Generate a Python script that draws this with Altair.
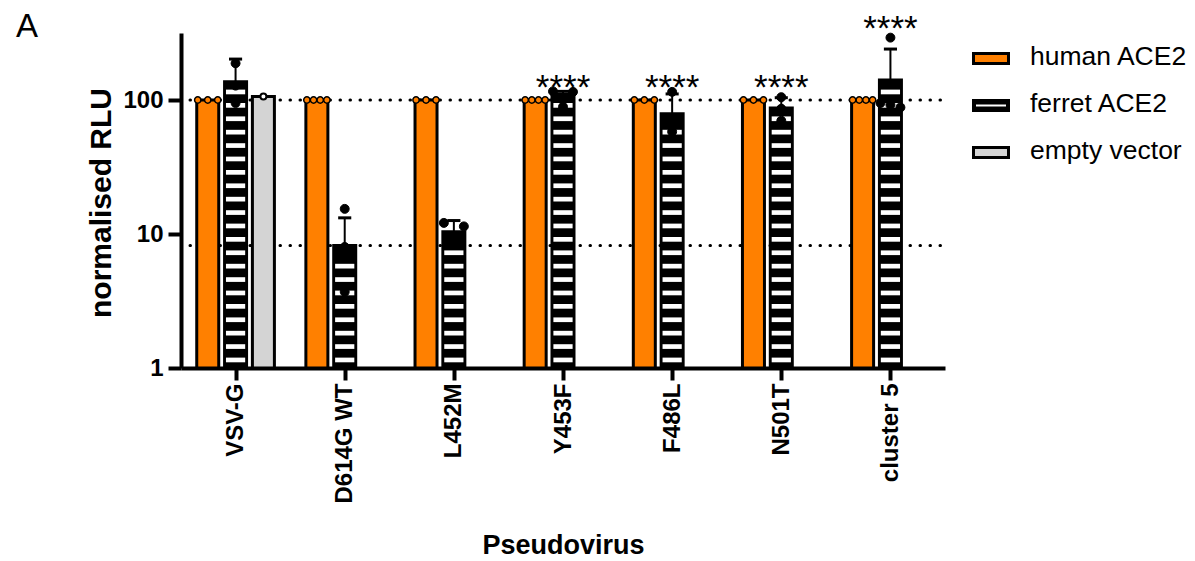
import json
import numpy as np
import pandas as pd
import altair as alt

# ---------------- data ----------------
categories = ["VSV-G", "D614G WT", "L452M", "Y453F", "F486L", "N501T", "cluster 5"]
groups = ["human ACE2", "ferret ACE2", "empty vector"]

human_mean = [100, 100, 100, 100, 100, 100, 100]
human_points = [[100, 100, 100], [100, 100, 100, 100], [100, 100, 100],
                [100, 100, 100, 100], [100, 100, 100], [100, 100, 100],
                [100, 100, 100, 100]]

ferret_mean = [137, 8.2, 10.4, 110, 79, 87, 141]
ferret_err_top = [202, 13.2, 12.6, 116, 111, 104, 240]
ferret_points = [[188, 128, 95], [15.4, 8.0, 3.7], [12.1, 11.4, 8.6],
                 [116, 115, 89], [115, 68, 58], [105, 86, 70], [292, 95, 92, 88]]

empty_category = ["VSV-G"]
empty_mean = [106]
empty_points = [[106]]

signif_text = ["", "", "", "****", "****", "****", "****"]
signif_value = [None, None, None, 101, 101, 101, 280]

ref_lines = [100, 8.2]

# ---------------- layout / style ----------------
FONT = "Liberation Sans"
W, H = 764, 335
UNIT = W / 7.0
SLOT = {"human ACE2": -0.255, "ferret ACE2": 0.0, "empty vector": 0.255}
HALF = 0.1008
COLORS = {"human ACE2": "#FF8000", "ferret ACE2": "#000000", "empty vector": "#D4D4D4"}

xscale = alt.Scale(domain=[-0.5, 6.5], nice=False, zero=False)
yscale = alt.Scale(type="log", domain=[1, 10 ** 2.5], nice=False)

xaxis = alt.Axis(
    values=list(range(len(categories))),
    labelExpr=f"{json.dumps(categories)}[datum.value]",
    labelAngle=-90, labelFont=FONT, labelFontSize=24, labelFontWeight="bold",
    labelColor="black", labelPadding=3, labelOverlap=False, labelFlush=False,
    tickSize=12, tickWidth=4, tickColor="black",
    domainWidth=4, domainColor="black", grid=False,
    title="Pseudovirus", titleFont=FONT, titleFontSize=27, titleFontWeight="bold",
    titleColor="black", titleY=185, titleBaseline="alphabetic",
)
yaxis = alt.Axis(
    values=[1, 10, 100], format="d",
    labelFont=FONT, labelFontSize=24, labelFontWeight="bold", labelColor="black",
    labelPadding=5, tickSize=13, tickWidth=4, tickColor="black",
    domainWidth=4, domainColor="black", grid=False,
    title="normalised RLU", titleFont=FONT, titleFontSize=30, titleFontWeight="bold",
    titleColor="black", titleX=-71, titleY=H / 2 + 2, titleAngle=270,
    titleBaseline="alphabetic", titleAlign="center",
)


def X(field):
    return alt.X(field, type="quantitative", scale=xscale, axis=xaxis)


def Y(field):
    return alt.Y(field, type="quantitative", scale=yscale, axis=yaxis)


def spread(values, width_px=20.0, tol=0.06):
    """horizontal offsets (in x units) for points that would overlap"""
    logs = np.log10(values)
    order = np.argsort(-logs)
    offs = np.zeros(len(values))
    clusters, cur = [], [order[0]]
    for idx in order[1:]:
        if abs(logs[cur[0]] - logs[idx]) < tol:
            cur.append(idx)
        else:
            clusters.append(cur)
            cur = [idx]
    clusters.append(cur)
    for cl in clusters:
        if len(cl) > 1:
            o = np.linspace(-width_px / 2, width_px / 2, len(cl))
            for k, idx in enumerate(cl):
                offs[idx] = o[k] / UNIT
    return offs


# ---------------- tables ----------------
bar_rows = []
for i, c in enumerate(categories):
    bar_rows.append(dict(group="human ACE2", x0=i + SLOT["human ACE2"] - HALF,
                         x1=i + SLOT["human ACE2"] + HALF, y0=1, y1=human_mean[i]))
    bar_rows.append(dict(group="ferret ACE2", x0=i + SLOT["ferret ACE2"] - HALF,
                         x1=i + SLOT["ferret ACE2"] + HALF, y0=1, y1=ferret_mean[i]))
for c, m in zip(empty_category, empty_mean):
    i = categories.index(c)
    bar_rows.append(dict(group="empty vector", x0=i + SLOT["empty vector"] - HALF,
                         x1=i + SLOT["empty vector"] + HALF, y0=1, y1=m))
bars_df = pd.DataFrame(bar_rows)

# stripe pattern of the ferret bars (every 0.1 decade, anchored at the base)
stripe_rows = []
SH = 0.0175
for i, m in enumerate(ferret_mean):
    top = np.log10(m) - 0.045
    k = 0
    while True:
        cpos = 0.06 + 0.1 * k
        if cpos + SH > top:
            break
        stripe_rows.append(dict(x0=i - 0.088, x1=i + 0.088,
                                y0=10 ** (cpos - SH), y1=10 ** (cpos + SH)))
        k += 1
stripes_df = pd.DataFrame(stripe_rows)

err_df = pd.DataFrame(dict(x=list(range(len(categories))), m=ferret_mean, t=ferret_err_top))
err_df["c0"] = err_df["x"] - 0.06
err_df["c1"] = err_df["x"] + 0.06

hp_rows, fp_rows, ep_rows = [], [], []
for i, pts in enumerate(human_points):
    offs = spread(pts)
    for v, o in zip(pts, offs):
        hp_rows.append(dict(x=i + SLOT["human ACE2"] + o, v=v))
for i, pts in enumerate(ferret_points):
    offs = spread(pts)
    for v, o in zip(pts, offs):
        fp_rows.append(dict(x=i + SLOT["ferret ACE2"] + o, v=v))
for c, pts in zip(empty_category, empty_points):
    i = categories.index(c)
    for v in pts:
        ep_rows.append(dict(x=i + SLOT["empty vector"], v=v))
hp_df, fp_df, ep_df = pd.DataFrame(hp_rows), pd.DataFrame(fp_rows), pd.DataFrame(ep_rows)

sig_df = pd.DataFrame(dict(x=[i for i, s in enumerate(signif_text) if s],
                           v=[signif_value[i] for i, s in enumerate(signif_text) if s],
                           t=[s for s in signif_text if s]))
ref_df = pd.DataFrame(dict(v=ref_lines))

# ---------------- layers ----------------
refs = alt.Chart(ref_df).mark_rule(
    color="black", strokeWidth=3, strokeDash=[0.5, 9.5], strokeCap="round"
).encode(y=Y("v"), x=alt.value(9), x2=alt.value(W))

bars = alt.Chart(bars_df).mark_rect(stroke="black", strokeWidth=3).encode(
    x=X("x0"), x2="x1", y=Y("y0"), y2="y1",
    fill=alt.Fill("group:N", scale=alt.Scale(domain=groups, range=[COLORS[g] for g in groups]),
                  legend=None),
)

stripes = alt.Chart(stripes_df).mark_rect(fill="white", stroke=None).encode(
    x=X("x0"), x2="x1", y=Y("y0"), y2="y1")

err_line = alt.Chart(err_df).mark_rule(color="black", strokeWidth=2).encode(
    x=X("x"), y=Y("m"), y2="t")
err_cap = alt.Chart(err_df).mark_rule(color="black", strokeWidth=3).encode(
    x=X("c0"), x2="c1", y=Y("t"))

hpts = alt.Chart(hp_df).mark_point(shape="circle", filled=True, fill="#FF8000",
                                   stroke="black", strokeWidth=1.5, size=40, opacity=1).encode(
    x=X("x"), y=Y("v"))
fpts = alt.Chart(fp_df).mark_point(shape="circle", filled=True, fill="black",
                                   stroke="black", strokeWidth=1, size=80, opacity=1).encode(
    x=X("x"), y=Y("v"))
epts = alt.Chart(ep_df).mark_point(shape="circle", filled=True, fill="white",
                                   stroke="black", strokeWidth=2, size=36, opacity=1).encode(
    x=X("x"), y=Y("v"))

sig = alt.Chart(sig_df).mark_text(font=FONT, fontSize=35, color="black",
                                  align="center", baseline="alphabetic").encode(
    x=X("x"), y=Y("v"), text="t:N")

# panel letter
letter = alt.Chart(pd.DataFrame(dict(t=["A"]))).mark_text(
    font=FONT, fontSize=33, color="black", align="left", baseline="alphabetic"
).encode(text="t:N", x=alt.value(-165), y=alt.value(4))

# legend (drawn to the right of the plot)
legend_layers = []
for k, g in enumerate(groups):
    cy = 25.5 + 47 * k
    ldf = pd.DataFrame(dict(label=[g]))
    legend_layers.append(
        alt.Chart(ldf).mark_rect(fill=COLORS[g], stroke="black", strokeWidth=3).encode(
            x=alt.value(792.5), x2=alt.value(827.5), y=alt.value(cy - 5), y2=alt.value(cy + 5)))
    if g == "ferret ACE2":
        legend_layers.append(
            alt.Chart(ldf).mark_rule(color="white", strokeWidth=2).encode(
                x=alt.value(795), x2=alt.value(825), y=alt.value(cy)))
    legend_layers.append(
        alt.Chart(ldf).mark_text(font=FONT, fontSize=26.5, color="black", align="left",
                                 baseline="alphabetic").encode(
            text="label:N", x=alt.value(849), y=alt.value(cy + 6.7)))

chart = alt.layer(
    refs, bars, stripes, err_line, err_cap, hpts, fpts, epts, sig, letter, *legend_layers
).properties(
    width=W, height=H,
    padding={"left": 181, "top": 33, "right": 1195 - 181 - W, "bottom": 561 - 33 - H},
    autosize=alt.AutoSizeParams(type="none"),
    background="white",
).configure_view(stroke=None)

chart.save("out.html", embed_options={"renderer": "svg", "actions": False})
